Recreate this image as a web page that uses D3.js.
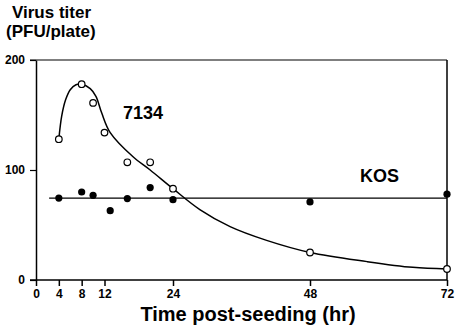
<!DOCTYPE html>
<html>
<head>
<meta charset="utf-8">
<script src="https://cdn.jsdelivr.net/npm/d3@7"></script>
<style>
  body { margin: 0; background: #fff; }
  svg text { font-family: "Liberation Sans", Arial, sans-serif; font-weight: bold; fill: #000; }
</style>
</head>
<body>
<svg id="chart" width="456" height="330"></svg>
<script>
// data
const hours = [4, 8, 10, 12, 16, 20, 24, 48, 72];
const titer7134 = [128, 178, 161, 134, 107, 107, 83, 25, 10];
const kosHours = [4, 8, 10, 13, 16, 20, 24, 48, 72];
const titerKOS = [74.5, 80, 77, 63, 74, 84, 73, 71, 78];
// hand-traced fitted curve for 7134
const fitHours = [4, 4.5, 5.2, 6, 7, 8, 9.5, 10.5, 11.5, 13, 17, 20, 24, 28.7, 34, 40.4, 48, 58, 66, 72];
const fitTiter = [128, 149, 164, 173, 177.5, 178, 174, 167, 152, 134, 112, 100, 83, 64, 48.5, 36, 25, 16.7, 11.5, 10];
// KOS mean line
const kosLine = { from: 2.3, to: 72, value: 74.5 };
const xTicks = [0, 4, 8, 12, 24, 48, 72];
const yTicks = [0, 100, 200];

const svg = d3.select('#chart');

const x = d3.scaleLinear().domain([0, 72]).range([36, 447]);
const y = d3.scaleLinear().domain([0, 200]).range([280, 60]);

// frame (top + right)
svg.append('line')
    .attr('x1', 30).attr('x2', x(72))
    .attr('y1', y(200)).attr('y2', y(200))
    .attr('stroke', '#000').attr('stroke-width', 1.2);
svg.append('line')
    .attr('x1', x(72)).attr('x2', x(72))
    .attr('y1', y(200)).attr('y2', y(0))
    .attr('stroke', '#000').attr('stroke-width', 1.5);

// x axis
const xAxis = svg.append('g')
    .attr('transform', `translate(0, ${y(0)})`)
    .call(d3.axisBottom(x).tickValues(xTicks).tickSize(6).tickPadding(3).tickSizeOuter(0));
xAxis.select('.domain').attr('d', `M30,0H${x(72)}`).attr('stroke-width', 1.5);
xAxis.selectAll('line').attr('stroke-width', 1.5);
xAxis.selectAll('text').style('font-size', '12px');

// y axis
const yAxis = svg.append('g')
    .attr('transform', `translate(${x(0)}, 0)`)
    .call(d3.axisLeft(y).tickValues(yTicks).tickSize(6).tickPadding(5).tickSizeOuter(0));
yAxis.select('.domain').attr('stroke-width', 1.5);
yAxis.selectAll('line').attr('stroke-width', 1.2);
yAxis.selectAll('text').style('font-size', '12px');

// KOS line
svg.append('line')
    .attr('x1', x(kosLine.from)).attr('x2', x(kosLine.to))
    .attr('y1', y(kosLine.value)).attr('y2', y(kosLine.value))
    .attr('stroke', '#000').attr('stroke-width', 1.3);

// 7134 curve
const fit = d3.zip(fitHours, fitTiter);
const line = d3.line()
    .x(d => x(d[0]))
    .y(d => y(d[1]))
    .curve(d3.curveCatmullRom.alpha(0.5));
svg.append('path')
    .datum(fit)
    .attr('d', line)
    .attr('fill', 'none')
    .attr('stroke', '#000')
    .attr('stroke-width', 1.5);

// KOS points
svg.selectAll('circle.kos')
    .data(d3.zip(kosHours, titerKOS))
    .enter()
    .append('circle')
    .attr('class', 'kos')
    .attr('cx', d => x(d[0]))
    .attr('cy', d => y(d[1]))
    .attr('r', 3.6)
    .attr('fill', '#000');

// 7134 points
svg.selectAll('circle.v7134')
    .data(d3.zip(hours, titer7134))
    .enter()
    .append('circle')
    .attr('class', 'v7134')
    .attr('cx', d => x(d[0]))
    .attr('cy', d => y(d[1]))
    .attr('r', 3.3)
    .attr('fill', '#fff')
    .attr('stroke', '#000')
    .attr('stroke-width', 1.2);

// labels
svg.append('text').attr('x', 123).attr('y', 119).style('font-size', '18px').text('7134');
svg.append('text').attr('x', 360).attr('y', 182).style('font-size', '18px').text('KOS');

svg.append('text').attr('x', 12).attr('y', 18).style('font-size', '17px').text('Virus titer');
svg.append('text').attr('x', 6).attr('y', 37).style('font-size', '17px').text('(PFU/plate)');

svg.append('text')
    .attr('x', 248).attr('y', 321)
    .attr('text-anchor', 'middle')
    .style('font-size', '20px')
    .text('Time post-seeding (hr)');
</script>
</body>
</html>
